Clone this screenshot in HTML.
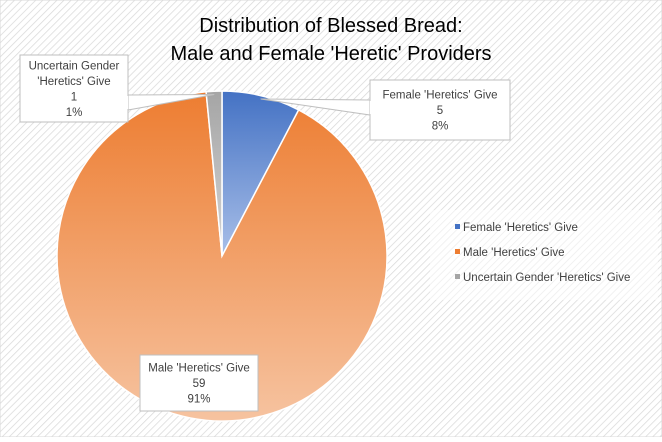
<!DOCTYPE html>
<html><head><meta charset="utf-8"><style>
body{margin:0;width:662px;height:437px;overflow:hidden;background:#fff}
svg text{font-family:"Liberation Sans",sans-serif}
</style></head><body>
<svg id="chart" width="662" height="437" viewBox="0 0 662 437">
<defs>
<pattern id="hatch" width="5" height="5" patternUnits="userSpaceOnUse" patternTransform="rotate(45)">
<rect width="5" height="5" fill="#fff"/><line x1="0" y1="0" x2="0" y2="5" stroke="#d9d9d9" stroke-width="1.5"/>
</pattern>
<linearGradient id="g0" x1="0" y1="0" x2="0" y2="1"><stop offset="0" stop-color="#4472C4"/><stop offset="1" stop-color="#a9bfe8"/></linearGradient>
<linearGradient id="g1" x1="0" y1="0" x2="0" y2="1"><stop offset="0" stop-color="#ED7D31"/><stop offset="1" stop-color="#f6c3a0"/></linearGradient>
<linearGradient id="g2" x1="0" y1="0" x2="0" y2="1"><stop offset="0" stop-color="#A5A5A5"/><stop offset="1" stop-color="#d4d4d4"/></linearGradient>
</defs>
<rect x="0" y="0" width="662" height="437" fill="url(#hatch)" stroke="#d9d9d9"/>
<rect x="430" y="210" width="228" height="90" fill="#fff" opacity="0.5"/>
<text x="331" y="32" text-anchor="middle" font-size="20" fill="#000">Distribution of Blessed Bread:</text>
<text x="331" y="60" text-anchor="middle" font-size="20" fill="#000">Male and Female 'Heretic' Providers</text>
<g id="slices"></g>
<g id="labels"></g>
<g id="legend"></g>
</svg>
<script>
const categories=["Female 'Heretics' Give","Male 'Heretics' Give","Uncertain Gender 'Heretics' Give"];
const values=[5,59,1];
const percents=["8%","91%","1%"];
const fills=["url(#g0)","url(#g1)","url(#g2)"];
const legendColors=["#4472C4","#ED7D31","#A5A5A5"];
const NS="http://www.w3.org/2000/svg";
const cx=222,cy=256,r=165;
const total=values.reduce((a,b)=>a+b,0);
function pt(a,rr){return [cx+rr*Math.sin(a),cy-rr*Math.cos(a)];}
const sg=document.getElementById('slices');
let a0=0;const mids=[];
values.forEach((v,i)=>{
  const a1=a0+v/total*2*Math.PI;
  const p0=pt(a0,r),p1=pt(a1,r);
  const large=(a1-a0)>Math.PI?1:0;
  const p=document.createElementNS(NS,'path');
  p.setAttribute('d',`M${cx},${cy}L${p0[0]},${p0[1]}A${r},${r} 0 ${large} 1 ${p1[0]},${p1[1]}Z`);
  p.setAttribute('fill',fills[i]);p.setAttribute('stroke','#fff');p.setAttribute('stroke-width','1.5');
  
  
  sg.appendChild(p);
  mids.push((a0+a1)/2);a0=a1;
});
// data labels (callout boxes)
const boxes=[{x:370,y:80,w:140,h:60},{x:140,y:355,w:118,h:56},{x:20,y:55,w:108,h:67}];
const lg=document.getElementById('labels');
boxes.forEach((b,i)=>{
  const m=pt(mids[i],r*0.98);
  const g=document.createElementNS(NS,'g');
  
  
  let tail;
  if(i===0)tail=`M${b.x},${b.y+20}L${m[0]},${m[1]}L${b.x},${b.y+35}`;
  else if(i===2)tail=`M${b.x+b.w},${b.y+40}L${m[0]},${m[1]}L${b.x+b.w},${b.y+55}`;
  else tail='';
  if(tail){const t=document.createElementNS(NS,'path');t.setAttribute('d',tail+'Z');t.setAttribute('fill','#fff');t.setAttribute('stroke','#bfbfbf');g.appendChild(t);}
  const rc=document.createElementNS(NS,'rect');
  rc.setAttribute('x',b.x);rc.setAttribute('y',b.y);rc.setAttribute('width',b.w);rc.setAttribute('height',b.h);
  rc.setAttribute('fill','#fff');rc.setAttribute('stroke','#bfbfbf');g.appendChild(rc);
  if(tail){const c=document.createElementNS(NS,'path');c.setAttribute('d',i===0?`M${b.x+1},${b.y+21}L${b.x+1},${b.y+34}`:`M${b.x+b.w-1},${b.y+41}L${b.x+b.w-1},${b.y+54}`);c.setAttribute('stroke','#fff');c.setAttribute('stroke-width','2');g.appendChild(c);}
  let lines;
  if(i===2)lines=["Uncertain Gender","'Heretics' Give",String(values[i]),percents[i]];
  else lines=[categories[i],String(values[i]),percents[i]];
  const lh=15.5,start=b.y+b.h/2-(lines.length-1)*lh/2+4;
  lines.forEach((s,k)=>{const t=document.createElementNS(NS,'text');t.setAttribute('x',b.x+b.w/2);t.setAttribute('y',start+k*lh);t.setAttribute('text-anchor','middle');t.setAttribute('font-size','11.5');t.setAttribute('fill','#404040');t.textContent=s;g.appendChild(t);});
  lg.appendChild(g);
});
const leg=document.getElementById('legend');
categories.forEach((c,i)=>{
  const y=228+i*25;
  const g=document.createElementNS(NS,'g');
  
  
  const s=document.createElementNS(NS,'rect');s.setAttribute('x',455);s.setAttribute('y',y-4);s.setAttribute('width',5);s.setAttribute('height',5);s.setAttribute('fill',legendColors[i]);g.appendChild(s);
  const t=document.createElementNS(NS,'text');t.setAttribute('x',463);t.setAttribute('y',y+3);t.setAttribute('font-size','11.5');t.setAttribute('fill','#404040');t.textContent=c;g.appendChild(t);
  leg.appendChild(g);
});
</script>
</body></html>
